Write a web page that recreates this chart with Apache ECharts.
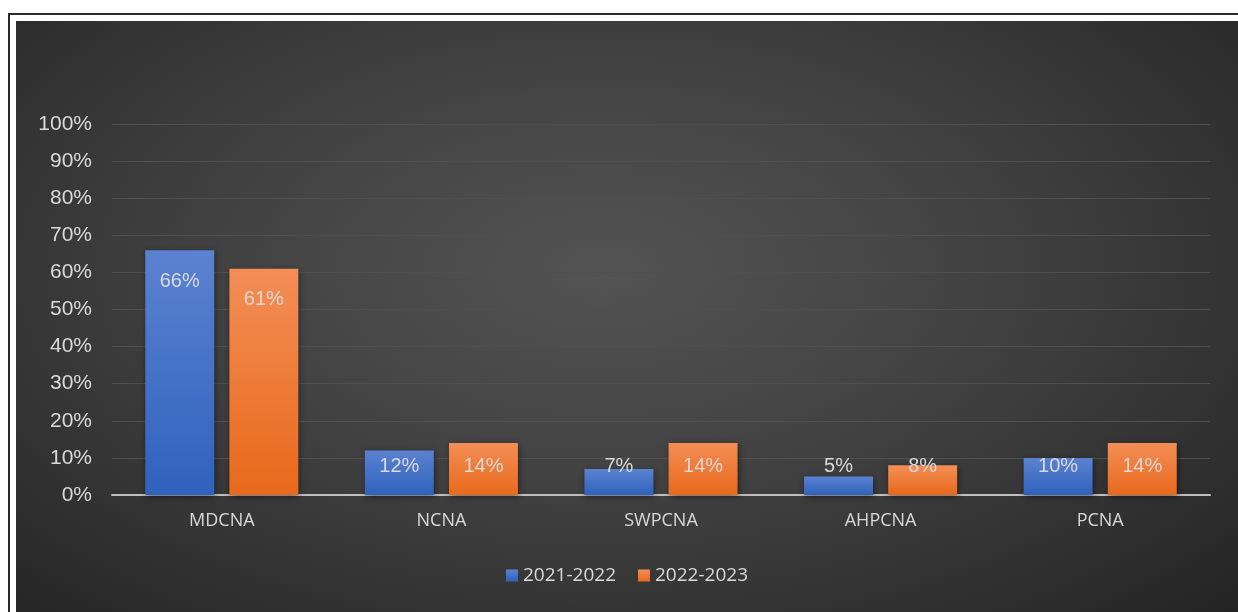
<!DOCTYPE html>
<html>
<head>
<meta charset="utf-8">
<script src="https://cdn.jsdelivr.net/npm/echarts@6/dist/echarts.min.js"></script>
<style>
  html, body { margin: 0; padding: 0; background: #ffffff; width: 1238px; height: 612px; overflow: hidden; }
  #frame { position: absolute; left: 8px; top: 13px; width: 1240px; height: 610px;
           border-top: 2px solid #2b2b2b; border-left: 2px solid #2b2b2b; }
  #chart { position: absolute; left: 16px; top: 21px; width: 1222px; height: 591px;
           background: radial-gradient(ellipse 75% 85% at 48% 42%, #535353 0%, #454545 35%, #333333 70%, #222222 100%); }
</style>
</head>
<body>
<div id="frame"></div>
<div id="chart"></div>
<script>
// Share of enrolment by program, two school years
const categories = ['MDCNA', 'NCNA', 'SWPCNA', 'AHPCNA', 'PCNA'];
const seriesNames = ['2021-2022', '2022-2023'];
const values2122 = [0.66, 0.12, 0.07, 0.05, 0.10];
const values2223 = [0.61, 0.14, 0.14, 0.08, 0.14];
const yTicks = [0, 0.1, 0.2, 0.3, 0.4, 0.5, 0.6, 0.7, 0.8, 0.9, 1.0];

const labelColor = '#d9d9d9';

function pct(v) { return Math.round(v * 100) + '%'; }

// Tall bars carry their label just inside the top; short bars get it at a fixed height above the base
function toItems(arr) {
  return arr.map(v => ({
    value: v,
    label: v > 0.2
      ? { position: 'insideTop', distance: 21 }
      : { position: 'insideBottom', distance: 19 }
  }));
}

function barGradient(top, bottom) {
  return new echarts.graphic.LinearGradient(0, 0, 0, 1, [
    { offset: 0, color: top },
    { offset: 1, color: bottom }
  ]);
}

const chart = echarts.init(document.getElementById('chart'), null, { renderer: 'canvas' });

const baseLabel = {
  show: true,
  color: labelColor,
  fontFamily: 'Liberation Sans, Arial, sans-serif',
  fontSize: 20,
  formatter: p => pct(p.value)
};

chart.setOption({
  backgroundColor: 'transparent',
  animation: false,
  grid: { left: 96, right: 28, top: 103, bottom: 117, containLabel: false },
  legend: {
    data: seriesNames,
    bottom: 22,
    left: 'center',
    itemWidth: 12,
    itemHeight: 12,
    itemGap: 22,
    icon: 'rect',
    textStyle: { color: '#d9d9d9', fontFamily: 'Open Sans, Noto Sans, sans-serif', fontSize: 19 }
  },
  xAxis: {
    type: 'category',
    data: categories,
    axisLine: { lineStyle: { color: '#bfbfbf', width: 2 } },
    axisTick: { show: false },
    axisLabel: { color: '#d9d9d9', fontFamily: 'Open Sans, Noto Sans, sans-serif', fontSize: 18, margin: 17 }
  },
  yAxis: {
    type: 'value',
    min: yTicks[0],
    max: yTicks[yTicks.length - 1],
    interval: 0.1,
    axisLine: { show: false },
    axisTick: { show: false },
    splitLine: { lineStyle: { color: '#4f4f4f', width: 1 } },
    axisLabel: {
      color: '#d9d9d9',
      fontFamily: 'Liberation Sans, Arial, sans-serif',
      fontSize: 21,
      margin: 20,
      formatter: v => pct(v)
    }
  },
  series: [
    {
      name: seriesNames[0],
      type: 'bar',
      data: toItems(values2122),
      barWidth: '31.4%',
      barGap: '22%',
      itemStyle: {
        color: barGradient('#5b82d0', '#2f62bd'),
        shadowColor: 'rgba(0,0,0,0.45)', shadowBlur: 6, shadowOffsetX: 1, shadowOffsetY: 2
      },
      label: baseLabel
    },
    {
      name: seriesNames[1],
      type: 'bar',
      data: toItems(values2223),
      barWidth: '31.4%',
      itemStyle: {
        color: barGradient('#f38e56', '#e8691b'),
        shadowColor: 'rgba(0,0,0,0.45)', shadowBlur: 6, shadowOffsetX: 1, shadowOffsetY: 2
      },
      label: baseLabel
    }
  ]
});
</script>
</body>
</html>
